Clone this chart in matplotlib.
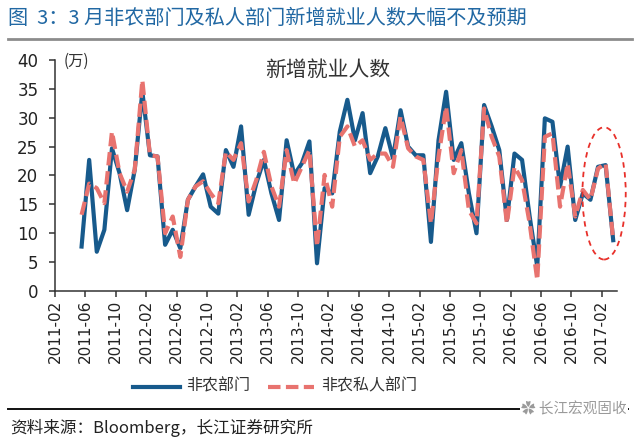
import matplotlib
matplotlib.use('Agg')
import matplotlib.pyplot as plt
from matplotlib.patches import Ellipse
from matplotlib.lines import Line2D
import pandas as pd

plt.rcParams['font.family'] = ['Noto Sans CJK SC', 'DejaVu Sans']

# ---- data (万人) ----
axis_start = '2011-02'
axis_end = '2017-03'
data_start = '2011-05'
nonfarm = [7.7, 22.7, 6.8, 10.6, 24.7, 20.4, 14.0, 21.0, 34.5, 23.5, 23.3, 8.0,
           10.6, 7.4, 15.8, 18.1, 20.2, 14.6, 13.4, 24.4, 21.5, 28.5, 13.2, 18.6,
           22.7, 16.9, 12.3, 26.1, 20.1, 22.1, 25.9, 4.8, 17.8, 16.9, 27.6, 33.1,
           26.1, 30.8, 20.4, 23.3, 28.2, 23.0, 31.3, 25.0, 23.5, 23.5, 8.5, 26.1,
           34.5, 22.7, 25.6, 16.9, 10.0, 32.2, 28.5, 24.4, 12.3, 23.8, 22.7, 12.9,
           4.2, 29.9, 29.3, 18.1, 25.0, 12.3, 16.9, 15.8, 21.5, 21.8, 8.8]
private = [13.2, 18.6, 17.8, 15.2, 27.6, 20.4, 17.2, 21.0, 36.5, 23.5, 23.3, 10.0,
           12.9, 5.9, 15.8, 18.1, 19.0, 16.9, 15.2, 24.1, 22.7, 25.6, 15.5, 19.2,
           24.1, 18.1, 14.6, 24.4, 18.6, 21.5, 24.4, 7.7, 20.1, 14.6, 26.7, 28.5,
           25.0, 26.1, 22.7, 23.8, 23.8, 21.5, 30.2, 24.7, 23.3, 22.7, 11.7, 23.3,
           31.9, 20.4, 24.4, 14.0, 11.7, 31.6, 26.7, 23.3, 11.7, 21.5, 19.2, 11.7,
           1.9, 26.7, 27.3, 14.6, 22.1, 12.9, 17.5, 15.8, 21.2, 22.1, 8.8]
tick_labels = ['2011-02', '2011-06', '2011-10', '2012-02', '2012-06', '2012-10',
               '2013-02', '2013-06', '2013-10', '2014-02', '2014-06', '2014-10',
               '2015-02', '2015-06', '2015-10', '2016-02', '2016-06', '2016-10',
               '2017-02']
series_names = ['非农部门', '非农私人部门']
y_ticks = [0, 5, 10, 15, 20, 25, 30, 35, 40]

BLUE = '#175a8c'
PINK = '#e8736f'

W, H = 639, 440
fig = plt.figure(figsize=(W / 100, H / 100), dpi=100)

def fx(x):
    return x / W

def fy(y):
    return 1 - y / H

ax_l, ax_r, ax_t, ax_b = 55, 617, 60, 291
ax = fig.add_axes([fx(ax_l), fy(ax_b), fx(ax_r) - fx(ax_l), fy(ax_t) - fy(ax_b)])

periods = pd.period_range(axis_start, axis_end, freq='M')
pos = {str(p): i for i, p in enumerate(periods)}
start_i = pos[data_start]
xs = [start_i + i + 0.5 for i in range(len(nonfarm))]

ax.plot(xs, nonfarm, color=BLUE, lw=3.0, solid_joinstyle='round', zorder=3)
ax.plot(xs, private, color=PINK, lw=3.0, dashes=(3.2, 1.4), zorder=4)

ax.set_xlim(0, len(periods))
ax.set_ylim(0, 40)
ax.set_yticks(y_ticks)
ax.set_yticklabels([str(v) for v in y_ticks], family='DejaVu Sans', fontsize=12, color='#222222')
ax.set_xticks([pos[t] for t in tick_labels])
ax.set_xticklabels(tick_labels, rotation=90, family='DejaVu Sans', fontsize=11, color='#222222')
for s in ['top', 'right']:
    ax.spines[s].set_visible(False)
for s in ['left', 'bottom']:
    ax.spines[s].set_color('#333333')
    ax.spines[s].set_linewidth(1.1)
ax.tick_params(axis='y', direction='out', length=4, width=1.1, color='#333333', pad=8)
ax.tick_params(axis='x', direction='out', length=4, width=1.1, color='#333333', pad=2)

# red dashed ellipse highlighting latest data
ell = Ellipse((72.3, 16.9), 5.7, 22.9, fill=False, edgecolor='#e8302a', lw=1.3,
              ls=(0, (3, 2.5)), zorder=5, clip_on=False)
ax.add_patch(ell)

# texts
fig.text(fx(8), fy(18), '图  3：3 月非农部门及私人部门新增就业人数大幅不及预期',
         fontsize=14.5, color='#2168a3', va='center', ha='left')
fig.add_artist(Line2D([fx(8), fx(632)], [fy(39), fy(39)], color='#8c8c8c', lw=2.0))
fig.text(fx(64), fy(61), '(万)', fontsize=11, color='#333333', va='center', ha='left')
fig.text(fx(328), fy(70), '新增就业人数', fontsize=15, color='#333333', va='center', ha='center')

# legend
fig.add_artist(Line2D([fx(133), fx(180)], [fy(387), fy(387)], color=BLUE, lw=3.0))
fig.text(fx(186), fy(386), series_names[0], fontsize=11.5, color='#333333', va='center', ha='left')
fig.add_artist(Line2D([fx(268), fx(314)], [fy(387), fy(387)], color=PINK, lw=3.0,
                      dashes=(3.0, 1.3)))
fig.text(fx(321), fy(386), series_names[1], fontsize=11.5, color='#333333', va='center', ha='left')

# footer
fig.add_artist(Line2D([fx(8), fx(628)], [fy(409), fy(409)], color='#111111', lw=1.4))
fig.text(fx(10), fy(428), '资料来源：Bloomberg，长江证券研究所', fontsize=12, color='#222222',
         va='center', ha='left')
fig.text(fx(627), fy(409), '✿ 长江宏观固收', fontsize=10.5, color='#9a9a9a', va='center', ha='right',
         family=['Noto Sans CJK SC', 'DejaVu Sans'],
         bbox=dict(facecolor='white', edgecolor='none', pad=1))

fig.savefig('out.png', dpi=100)
